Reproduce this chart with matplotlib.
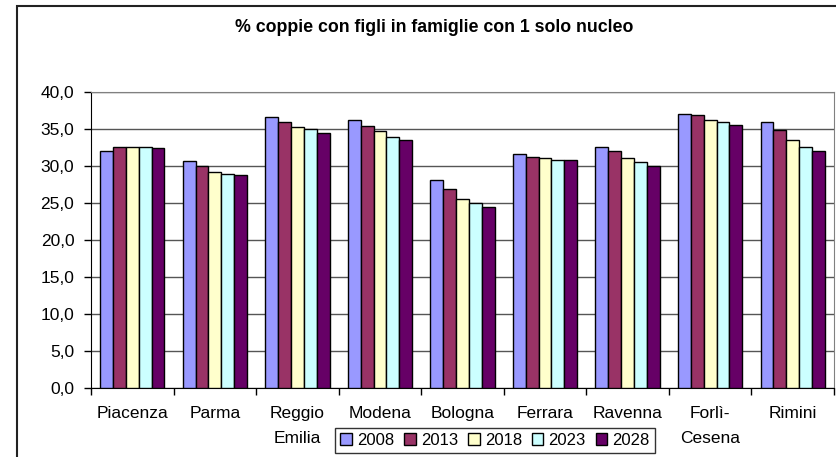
import matplotlib
matplotlib.use('Agg')
from matplotlib import pyplot as plt
from matplotlib.patches import Rectangle
import numpy as np

matplotlib.rcParams['font.family'] = ['Liberation Sans', 'DejaVu Sans']
matplotlib.rcParams['font.size'] = 12

## data
province = ['Piacenza', 'Parma', 'Reggio\nEmilia', 'Modena', 'Bologna',
            'Ferrara', 'Ravenna', 'Forlì-\nCesena', 'Rimini']
anni = ['2008', '2013', '2018', '2023', '2028']
v2008 = [32.0, 30.7, 36.6, 36.2, 28.1, 31.7, 32.6, 37.1, 36.0]
v2013 = [32.6, 30.0, 36.0, 35.5, 26.9, 31.3, 32.0, 36.9, 34.9]
v2018 = [32.6, 29.2, 35.3, 34.7, 25.6, 31.1, 31.1, 36.2, 33.6]
v2023 = [32.6, 29.0, 35.0, 34.0, 25.0, 30.9, 30.5, 36.0, 32.6]
v2028 = [32.4, 28.8, 34.5, 33.6, 24.5, 30.9, 30.0, 35.6, 32.0]
serie = [v2008, v2013, v2018, v2023, v2028]
colori = ['#9999FF', '#993366', '#FFFFCC', '#CCFFFF', '#660066']

fig = plt.figure(figsize=(8.36, 4.57), dpi=100)
ax = fig.add_axes([91/836, 1-387.7/457, (834-91)/836, (387.7-92.3)/457])

## outer frame
fig.patches.append(Rectangle((17/836, -0.1), 1.1, 1-6/457+0.1, transform=fig.transFigure,
                             fill=False, edgecolor='#222222', linewidth=1.5))

x = np.arange(len(province))
w = 0.156
for i, vals in enumerate(serie):
    ax.bar(x + (i - 2) * w, vals, w, color=colori[i], edgecolor='black',
           linewidth=1.0, label=anni[i], zorder=3)

ax.set_xlim(-0.5, len(province) - 0.5)
ax.set_ylim(0, 40)
ax.set_yticks(np.arange(0, 41, 5))
ax.set_yticklabels([('%.1f' % v).replace('.', ',') for v in np.arange(0, 41, 5)])
ax.yaxis.grid(True, color='#555555', linewidth=1.0, zorder=0)

ax.set_xticks(x)
ax.set_xticklabels(province, linespacing=1.85)
ax.set_xticks(np.arange(-0.5, len(province)), minor=True)
ax.tick_params(axis='x', which='major', length=0, pad=13)
ax.tick_params(axis='x', which='minor', length=5, width=1, direction='out')
ax.tick_params(axis='y', length=5, width=1, direction='out', pad=7)
ax.tick_params(labelsize=12.5)

for s in ['top', 'right']:
    ax.spines[s].set_color('#808080')
ax.spines['left'].set_color('black')
ax.spines['bottom'].set_color('black')

fig.text(434/836, 1-28/457, '% coppie con figli in famiglie con 1 solo nucleo',
         ha='center', va='center', fontsize=12.8, fontweight='bold')

leg = fig.legend(loc='upper center', bbox_to_anchor=(495/836, 1-428/457), ncol=5,
                 frameon=True, fancybox=False, edgecolor='black', handlelength=0.7,
                 handleheight=0.7, handletextpad=0.3, columnspacing=0.6,
                 borderpad=0.3, borderaxespad=0, fontsize=12)
leg.get_frame().set_linewidth(1.0)

plt.savefig('out.png', dpi=100)
